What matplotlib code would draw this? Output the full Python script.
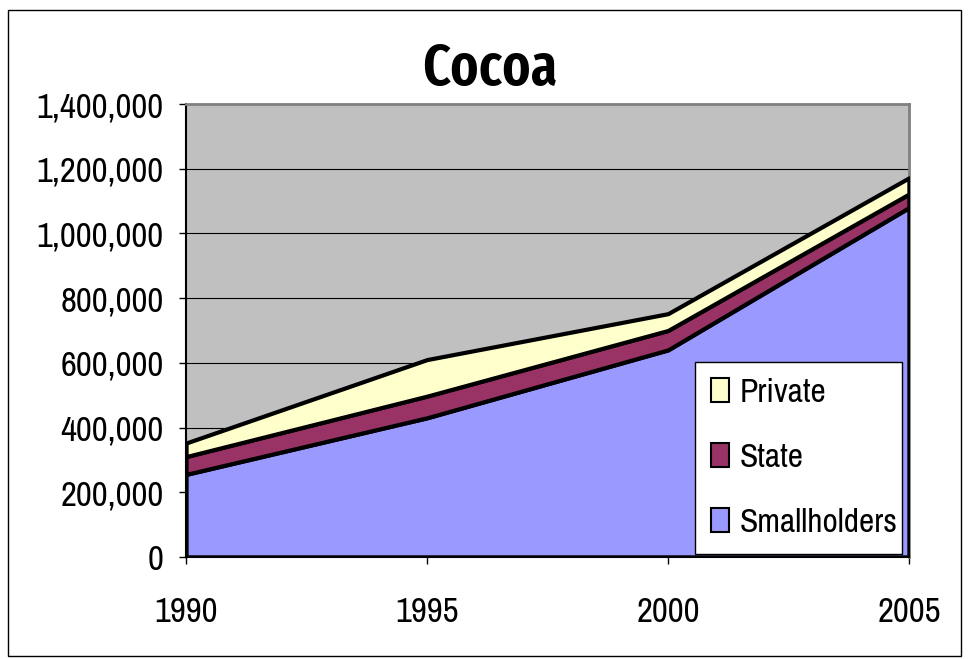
import matplotlib.pyplot as plt
from matplotlib.patches import Patch, Rectangle
from matplotlib.ticker import FuncFormatter

years = [1990, 1995, 2000, 2005]
smallholders = [255000, 430000, 640000, 1080000]
state = [55000, 67000, 60000, 42000]
private = [42000, 113000, 52000, 50000]

labels = ['Smallholders', 'State', 'Private']
colors = ['#9999FF', '#993366', '#FFFFCC']

plt.rcParams['font.family'] = ['Archivo Narrow', 'DejaVu Sans']

fig = plt.figure(figsize=(9.69, 6.59), dpi=100)
ax = fig.add_axes([0.192, 0.155, 0.746, 0.687])
ax.set_facecolor('#C0C0C0')

ax.stackplot(years, smallholders, state, private, colors=colors,
             edgecolor='black', linewidth=3, zorder=3)

ax.set_xlim(1990, 2005)
ax.set_ylim(0, 1400000)
ax.set_xticks(years)
ax.set_yticks(range(0, 1400001, 200000))
ax.yaxis.set_major_formatter(FuncFormatter(lambda v, p: f'{int(v):,}'))
ax.grid(axis='y', color='black', linewidth=0.8, zorder=1)
ax.set_axisbelow(True)
ax.tick_params(axis='both', labelsize=25, length=5, width=1, direction='out')
ax.tick_params(axis='x', pad=23)
ax.tick_params(axis='y', pad=11)

ax.spines['top'].set_color('#808080')
ax.spines['right'].set_color('#808080')
ax.spines['top'].set_linewidth(2)
ax.spines['right'].set_linewidth(2)
ax.spines['left'].set_linewidth(1.5)
ax.spines['bottom'].set_linewidth(1.5)

fig.text(0.505, 0.871, 'Cocoa', ha='center', va='baseline', fontsize=42,
         fontweight=600, family=['Fira Sans Extra Condensed', 'DejaVu Sans'])

handles = [Patch(facecolor=c, edgecolor='black', linewidth=1.5) for c in colors]
leg = ax.legend(handles[::-1], labels[::-1], loc='lower left',
                bbox_to_anchor=(0.704, 0.007, 0.286, 0.45), mode='expand',
                fontsize=24, frameon=True, fancybox=False, borderaxespad=0,
                handlelength=0.55, handleheight=0.7, handletextpad=0.3,
                labelspacing=1.05, borderpad=0.48)
leg.get_frame().set_edgecolor('black')
leg.get_frame().set_linewidth(1)
leg.get_frame().set_alpha(1)
leg.set_zorder(5)

fig.patches.append(Rectangle((0.008, 0.005), 0.984, 0.98, transform=fig.transFigure,
                             fill=False, edgecolor='black', linewidth=1))

fig.savefig('out.png', dpi=100)
